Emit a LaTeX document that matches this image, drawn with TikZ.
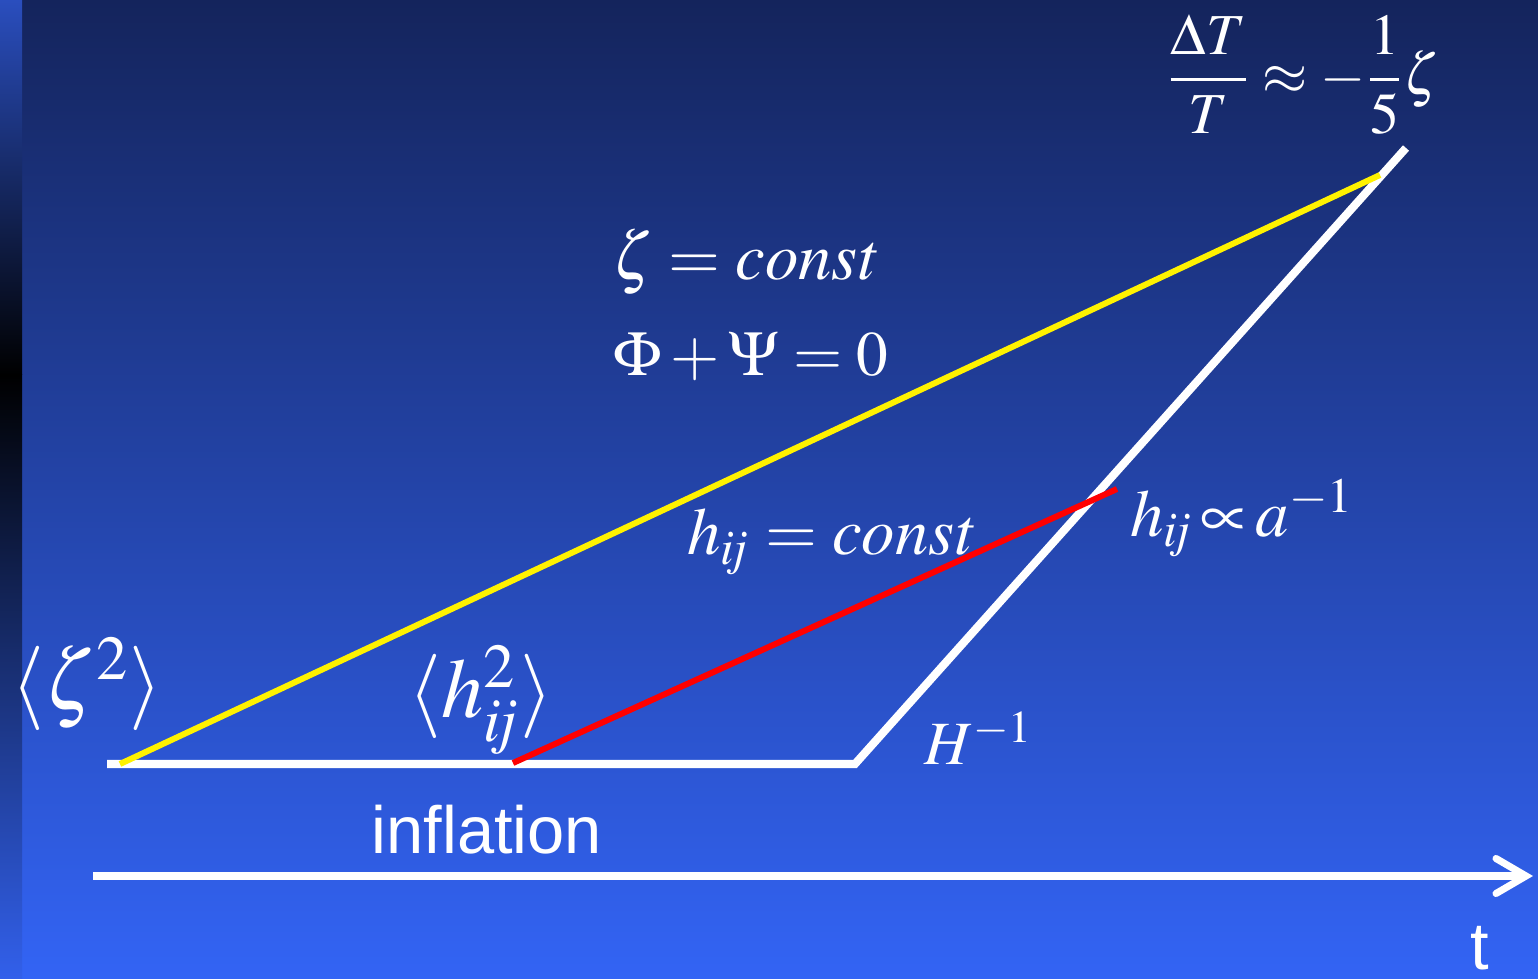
\documentclass[tikz,border=0pt]{standalone}
\usepackage{amsmath}
\usepackage{mathptmx}
\usepackage{fontspec}
\setsansfont{Liberation Sans}
\usetikzlibrary{arrows.meta}

\definecolor{skytop}{RGB}{20,36,92}
\definecolor{skybot}{RGB}{51,100,245}
\definecolor{striptop}{RGB}{42,78,190}
\definecolor{stripbot}{RGB}{50,96,235}
\newcommand{\hij}{h_{i\mkern-3mu j}}

\begin{document}
\begin{tikzpicture}[>={Straight Barb[length=3mm,width=3.5mm,line cap=round]}, x=0.01cm, y=-0.01cm,
  lbl/.style={text=white, inner sep=0pt, font=\fontsize{19}{22}\selectfont},
  big/.style={text=white, inner sep=0pt, font=\fontsize{24}{27}\selectfont}]
  \useasboundingbox (0,0) rectangle (1538,979);
  % background
  \shade[top color=skytop, bottom color=skybot] (0,0) rectangle (1538,979);
  \shade[top color=striptop, bottom color=black] (0,0) rectangle (22,375);
  \shade[top color=black, bottom color=stripbot] (0,375) rectangle (22,979);
  \coordinate (infl-start) at (107,764);
  \coordinate (infl-end) at (855,764);
  \coordinate (rad-end) at (1406,148);
  \coordinate (zeta-start) at (120,764);
  \coordinate (zeta-end) at (1380,175);
  \coordinate (h-start) at (513,763);
  \coordinate (h-end) at (1117,489);
  \coordinate (t-start) at (93,876);
  \coordinate (t-end) at (1533,876);
  % horizon
  \draw[white, line width=2.3pt] (infl-start) -- (infl-end) -- (rad-end);
  \draw[yellow, line width=1.7pt] (zeta-start) -- (zeta-end);
  \draw[red, line width=1.7pt] (h-start) -- (h-end);
  \draw[->, white, line width=2pt] (t-start) -- (t-end);
  % labels
  \node[lbl, font=\fontsize{16.5}{19}\selectfont] (dT) at (1303,75) {$\dfrac{\Delta T}{T}\approx-\dfrac{1}{5}\zeta$};
  \node[lbl] (zc) at (745,262) {$\zeta=\mathit{const}$};
  \node[lbl, font=\fontsize{18}{21}\selectfont] (pp) at (751,356) {$\Phi+\Psi=0$};
  \node[lbl] (hc) at (831,542) {$\hij=\mathit{const}$};
  \node[lbl] (ha) at (1242,518) {$\thickmuskip=2mu \hij\propto a^{-1}$};
  \node[big] (z2) at (87,684) {$\langle\zeta^{2}\rangle$};
  \node[big] (h2) at (481,700) {$\langle \hij^{2}\rangle$};
  \node[lbl, font=\fontsize{17.5}{20}\selectfont] (Hi) at (979,738) {$H^{-1}$};
  \node[lbl, font=\sffamily\fontsize{19}{22}\selectfont] (inf) at (487,830) {inflation};
  \node[lbl, font=\sffamily\fontsize{19}{22}\selectfont] (t) at (1480,948) {t};
\end{tikzpicture}
\end{document}
